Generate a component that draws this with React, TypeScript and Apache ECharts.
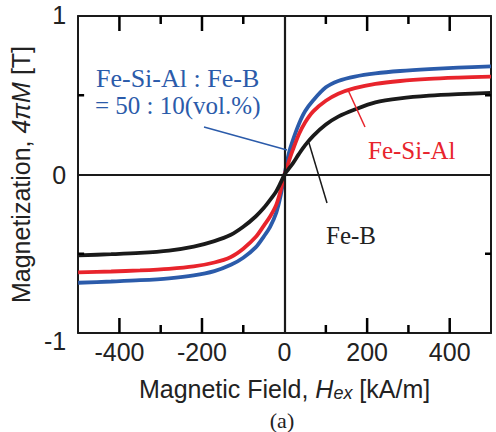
import React, { useEffect, useRef } from "react";
import * as echarts from "echarts";

// Applied field H (kA/m)
const hValues = [-500, -420, -350, -280, -220, -170, -130, -100, -70, -50, -35, -20, -10, 0, 10, 20, 35, 50, 70, 100, 130, 170, 220, 280, 350, 420, 500];
// Magnetization 4πM (T)
const feSiAlFeB = [-0.683, -0.675, -0.667, -0.655, -0.637, -0.61, -0.57, -0.525, -0.46, -0.39, -0.33, -0.24, -0.14, 0, 0.13, 0.215, 0.32, 0.4, 0.47, 0.55, 0.59, 0.618, 0.638, 0.653, 0.665, 0.674, 0.682];
const feSiAl = [-0.618, -0.612, -0.605, -0.595, -0.58, -0.555, -0.52, -0.468, -0.395, -0.322, -0.265, -0.19, -0.105, 0, 0.08, 0.155, 0.255, 0.33, 0.4, 0.465, 0.51, 0.545, 0.572, 0.59, 0.603, 0.611, 0.618];
const feB = [-0.51, -0.503, -0.495, -0.48, -0.455, -0.42, -0.38, -0.33, -0.265, -0.21, -0.16, -0.105, -0.055, 0, 0.035, 0.07, 0.13, 0.185, 0.245, 0.315, 0.365, 0.41, 0.455, 0.48, 0.497, 0.507, 0.515];

const xTickLabels = [-400, -200, 0, 200, 400];
const xMajorTicks = [-400, -200, 200, 400];
const xMinorTicks = [-300, -100, 100, 300];
const yTickLabels = [-1, 0, 1];
const yTicks = [-0.5, 0.5];

const BLUE = "#2b5baa";
const RED = "#e8242c";
const BLACK = "#1a1a1a";

const X_MIN = -500;
const X_MAX = 500;
const Y_MIN = -1;
const Y_MAX = 1;

export default function App() {
  const ref = useRef<HTMLDivElement>(null);
  useEffect(() => {
    if (!ref.current) return;
    const chart = echarts.init(ref.current, undefined, { renderer: "svg" });
    const sans = "Liberation Sans";
    const serif = "Liberation Serif";
    const axisLine = { show: true, onZero: false, lineStyle: { color: BLACK, width: 2 } };
    const baseX = { type: "value", min: X_MIN, max: X_MAX, splitLine: { show: false }, axisTick: { show: false } };
    const baseY = { type: "value", min: Y_MIN, max: Y_MAX, splitLine: { show: false }, axisTick: { show: false } };
    const mk = (data: number[]) => hValues.map((h, i) => [h, data[i]]);
    const curve = (name: string, data: number[], color: string, z: number) => ({
      name,
      type: "line",
      data: mk(data),
      showSymbol: false,
      smooth: 0.3,
      z,
      lineStyle: { color, width: 3.8 },
    });
    const txt = (text: string, x: number, y: number, fill: string, size: number, align = "left") => ({
      type: "text",
      x,
      y,
      z: 10,
      style: { text, fill, font: `${size}px "${serif}"`, verticalAlign: "top", align },
    });

    // tick data: [x, y, pixel length, kind(0 = x tick, 1 = y tick)]
    const tickData = [
      ...xMajorTicks.map((v) => [v, 0, 15, 0]),
      ...xMinorTicks.map((v) => [v, 0, 8, 0]),
      ...yTicks.map((v) => [0, v, 6, 1]),
    ];
    const seg = (x1: number, y1: number, x2: number, y2: number) => ({
      type: "line",
      shape: { x1, y1, x2, y2 },
      style: { stroke: "#000000", lineWidth: 2.5 },
    });

    chart.setOption({
      animation: false,
      grid: { left: 74, top: 16, width: 417, height: 317 },
      xAxis: [
        {
          ...baseX,
          position: "bottom",
          axisLine,
          axisLabel: { customValues: xTickLabels, fontFamily: sans, fontSize: 25, color: "#222", margin: 6 },
          name: "Magnetic Field, {i|H}{sub|ex} [kA/m]",
          nameLocation: "middle",
          nameGap: 43,
          nameTextStyle: {
            fontFamily: sans,
            fontSize: 25,
            color: "#222",
            rich: {
              i: { fontFamily: sans, fontSize: 25, fontStyle: "italic", color: "#222" },
              sub: { fontFamily: sans, fontSize: 18, fontStyle: "italic", color: "#222", verticalAlign: "bottom", padding: [8, 0, 0, 0] },
            },
          },
        },
        { ...baseX, position: "top", axisLine, axisLabel: { show: false } },
      ],
      yAxis: [
        {
          ...baseY,
          position: "left",
          axisLine,
          axisLabel: {
            customValues: yTickLabels,
            fontFamily: sans,
            fontSize: 25,
            color: "#222",
            margin: 12,
            formatter: (v: number) => (v === -1 ? "{low|-1}" : v === 1 ? "{hi|1}" : String(v)),
            rich: {
              low: { fontFamily: sans, fontSize: 25, color: "#222", padding: [16, 0, 0, 0] },
              hi: { fontFamily: sans, fontSize: 25, color: "#222", padding: [0, 0, 2, 0] },
            },
          },
          name: "Magnetization, {i|4πM} [T]",
          nameLocation: "middle",
          nameRotate: 90,
          nameGap: 38,
          nameTextStyle: {
            fontFamily: sans,
            fontSize: 25,
            color: "#222",
            rich: { i: { fontFamily: sans, fontSize: 25, fontStyle: "italic", color: "#222" } },
          },
        },
        { ...baseY, position: "right", axisLine, axisLabel: { show: false } },
      ],
      series: [
        {
          type: "line",
          data: [],
          z: 1,
          markLine: {
            silent: true,
            symbol: ["none", "none"],
            label: { show: false },
            lineStyle: { color: BLACK, width: 2.2, type: "solid" },
            data: [{ xAxis: 0 }, { yAxis: 0 }],
          },
        },
        {
          type: "custom",
          coordinateSystem: "cartesian2d",
          silent: true,
          clip: false,
          z: 8,
          encode: { x: 0, y: 1 },
          data: tickData,
          renderItem: (_params: any, api: any) => {
            const len = api.value(2);
            if (api.value(3) === 0) {
              const b = api.coord([api.value(0), Y_MIN]);
              const t = api.coord([api.value(0), Y_MAX]);
              return { type: "group", children: [seg(b[0], b[1], b[0], b[1] - len), seg(t[0], t[1], t[0], t[1] + len)] };
            }
            const l = api.coord([X_MIN, api.value(1)]);
            const r = api.coord([X_MAX, api.value(1)]);
            return { type: "group", children: [seg(l[0], l[1], l[0] + len, l[1]), seg(r[0], r[1], r[0] - len, r[1])] };
          },
        },
        curve("Fe-Si-Al : Fe-B", feSiAlFeB, BLUE, 3),
        curve("Fe-Si-Al", feSiAl, RED, 4),
        curve("Fe-B", feB, BLACK, 5),
      ],
      graphic: [
        { type: "line", shape: { x1: 204, y1: 127, x2: 287, y2: 150 }, style: { stroke: BLUE, lineWidth: 1.5 }, z: 10 },
        { type: "line", shape: { x1: 348, y1: 90, x2: 365, y2: 127 }, style: { stroke: RED, lineWidth: 1.5 }, z: 10 },
        { type: "line", shape: { x1: 309, y1: 143, x2: 327, y2: 203 }, style: { stroke: BLACK, lineWidth: 1.5 }, z: 10 },
        txt("Fe-Si-Al : Fe-B", 96, 65, BLUE, 26),
        txt("= 50 : 10(vol.%)", 95, 93, BLUE, 25),
        txt("Fe-Si-Al", 368, 138, RED, 25),
        txt("Fe-B", 326, 223, "#222", 25),
        txt("(a)", 282, 409, "#222", 22, "center"),
      ],
    });
    return () => chart.dispose();
  }, []);
  return <div ref={ref} style={{ position: "fixed", left: 0, top: 0, width: 496, height: 432, background: "#fff" }} />;
}
